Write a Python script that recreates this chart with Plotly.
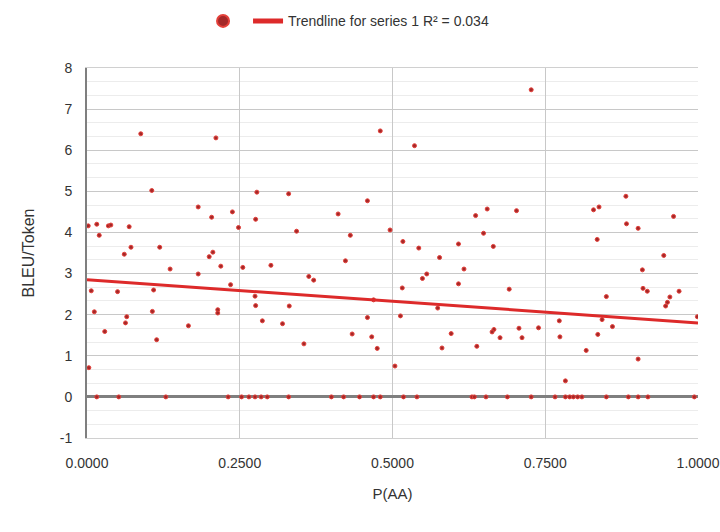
import plotly.graph_objects as go

# Scatter points with a non-zero BLEU/Token value
p_aa = [
    0.088, 0.106, 0.182, 0.002, 0.016, 0.020, 0.035, 0.039, 0.069, 0.072,
    0.061, 0.119, 0.136, 0.182, 0.007, 0.050, 0.109, 0.012, 0.065, 0.063,
    0.107, 0.029, 0.166, 0.114, 0.003, 0.211, 0.278, 0.330, 0.204, 0.238,
    0.276, 0.248, 0.343, 0.200, 0.206, 0.219, 0.255, 0.301, 0.363, 0.371,
    0.235, 0.275, 0.276, 0.331, 0.214, 0.214, 0.287, 0.320, 0.355, 0.480,
    0.536, 0.459, 0.411, 0.431, 0.496, 0.517, 0.543, 0.608, 0.423, 0.577,
    0.549, 0.556, 0.608, 0.516, 0.469, 0.574, 0.459, 0.513, 0.434, 0.466,
    0.475, 0.596, 0.581, 0.504, 0.655, 0.636, 0.703, 0.649, 0.665, 0.617,
    0.691, 0.773, 0.666, 0.663, 0.707, 0.739, 0.676, 0.712, 0.774, 0.638,
    0.783, 0.727, 0.882, 0.829, 0.838, 0.960, 0.883, 0.902, 0.835, 0.944,
    0.909, 0.910, 0.917, 0.969, 0.954, 0.950, 0.947, 0.850, 0.999, 0.843,
    0.860, 0.836, 0.817, 0.902,
]
bleu_token = [
    6.40, 5.02, 4.62, 4.16, 4.20, 3.93, 4.16, 4.18, 4.14, 3.64,
    3.47, 3.64, 3.11, 2.99, 2.58, 2.56, 2.60, 2.07, 1.95, 1.80,
    2.08, 1.59, 1.73, 1.39, 0.71, 6.30, 4.98, 4.94, 4.37, 4.50,
    4.32, 4.12, 4.03, 3.41, 3.52, 3.18, 3.15, 3.20, 2.93, 2.84,
    2.73, 2.45, 2.22, 2.21, 2.12, 2.04, 1.85, 1.78, 1.29, 6.47,
    6.11, 4.77, 4.45, 3.93, 4.06, 3.78, 3.62, 3.72, 3.31, 3.39,
    2.88, 2.99, 2.75, 2.65, 2.36, 2.16, 1.93, 1.97, 1.53, 1.46,
    1.18, 1.54, 1.19, 0.75, 4.57, 4.41, 4.53, 3.98, 3.66, 3.11,
    2.62, 1.85, 1.64, 1.58, 1.67, 1.68, 1.44, 1.44, 1.46, 1.23,
    0.39, 7.47, 4.88, 4.55, 4.62, 4.39, 4.21, 4.10, 3.83, 3.44,
    3.09, 2.64, 2.57, 2.57, 2.43, 2.30, 2.21, 2.44, 1.95, 1.88,
    1.71, 1.52, 1.13, 0.92,
]

# Points sitting exactly at BLEU/Token = 0
p_aa_zero = [
    0.016, 0.052, 0.129, 0.231, 0.253, 0.265, 0.275, 0.285, 0.295, 0.330,
    0.400, 0.420, 0.446, 0.469, 0.480, 0.518, 0.540, 0.630, 0.634, 0.653,
    0.688, 0.727, 0.766, 0.783, 0.790, 0.796, 0.803, 0.810, 0.850, 0.886,
    0.902, 0.918, 0.994,
]
bleu_token_zero = [0.0] * len(p_aa_zero)

# Linear trendline endpoints
trend_x = [0.0, 1.0]
trend_y = [2.85, 1.80]
trend_label = "Trendline for series 1 R² = 0.034"

x_ticks = [0.0, 0.25, 0.5, 0.75, 1.0]
y_ticks = [-1, 0, 1, 2, 3, 4, 5, 6, 7, 8]
y_tick_text = ["-1", "0", "1", "2", "3", "4", "5", "6", "7", "8"]

font_main = "Liberation Sans, Arial, sans-serif"

fig = go.Figure()

fig.add_trace(go.Scatter(
    x=p_aa + p_aa_zero,
    y=bleu_token + bleu_token_zero,
    mode="markers",
    name="",
    marker=dict(size=4, color="#a42828", line=dict(color="#e4403a", width=1)),
    showlegend=True,
))

fig.add_trace(go.Scatter(
    x=trend_x,
    y=trend_y,
    mode="lines",
    name=trend_label,
    line=dict(color="#dd2a2a", width=3),
))

fig.update_layout(
    width=720,
    height=532,
    paper_bgcolor="white",
    plot_bgcolor="white",
    margin=dict(l=87, r=22, t=68, b=94),
    font=dict(family=font_main, size=14, color="#333333"),
    legend=dict(
        orientation="h",
        xref="container",
        x=0.282,
        xanchor="left",
        yref="container",
        y=0.99,
        yanchor="top",
        itemsizing="constant",
        font=dict(family=font_main, size=14, color="#333333"),
        bgcolor="rgba(0,0,0,0)",
    ),
    xaxis=dict(
        range=[0, 1],
        tickvals=x_ticks,
        tickformat=".4f",
        automargin=False,
        showgrid=True,
        gridcolor="#c8c8c8",
        gridwidth=1,
        zeroline=False,
        showline=True,
        linecolor="#d0d0d0",
        linewidth=1,
        mirror=True,
        ticks="",
        ticklabelstandoff=12,
        title=dict(text="P(AA)", standoff=18, font=dict(family=font_main, size=15)),
    ),
    yaxis=dict(
        range=[-1, 8],
        tickvals=y_ticks,
        ticktext=y_tick_text,
        automargin=False,
        showgrid=True,
        gridcolor="#c8c8c8",
        gridwidth=1,
        minor=dict(dtick=1/3, showgrid=True, gridcolor="#ececec", gridwidth=1),
        zeroline=True,
        zerolinecolor="#7f7f7f",
        zerolinewidth=3,
        showline=True,
        linecolor="#7f7f7f",
        linewidth=2,
        ticks="",
        ticklabelstandoff=10,
        title=dict(text="BLEU/Token", standoff=21, font=dict(family=font_main, size=16)),
    ),
)

fig.write_html("out.html")
